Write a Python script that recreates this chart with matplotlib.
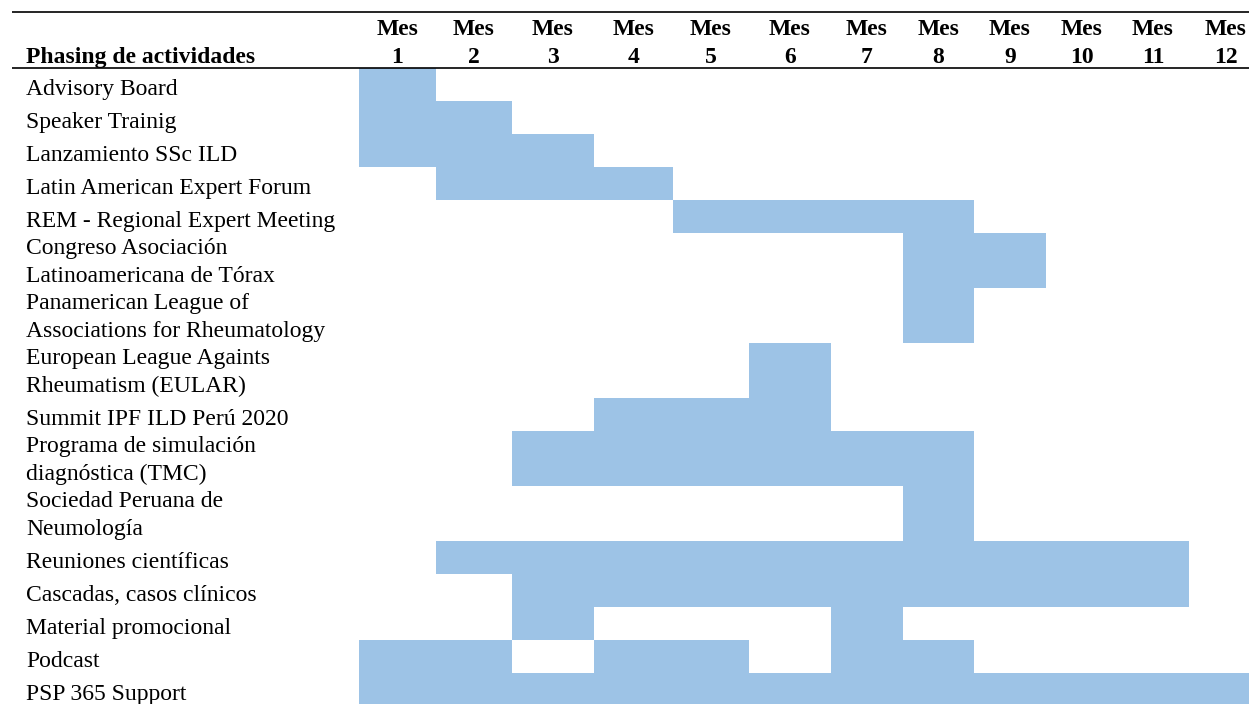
import matplotlib
matplotlib.use("Agg")
import matplotlib.pyplot as plt

# ---- data -------------------------------------------------------------
title = "Phasing de actividades"
months = [f"Mes\n{i}" for i in range(1, 13)]
activities = [
    "Advisory Board",
    "Speaker Trainig",
    "Lanzamiento SSc ILD",
    "Latin American Expert Forum",
    "REM - Regional Expert Meeting",
    "Congreso Asociación\nLatinoamericana de Tórax",
    "Panamerican League of\nAssociations for Rheumatology",
    "European League Againts\nRheumatism (EULAR)",
    "Summit IPF ILD Perú 2020",
    "Programa de simulación\ndiagnóstica (TMC)",
    "Sociedad Peruana de\nNeumología",
    "Reuniones científicas",
    "Cascadas, casos clínicos",
    "Material promocional",
    "Podcast",
    "PSP 365 Support",
]
active_months = [
    [1],
    [1, 2],
    [1, 2, 3],
    [2, 3, 4],
    [5, 6, 7, 8],
    [8, 9],
    [8],
    [6],
    [4, 5, 6],
    [3, 4, 5, 6, 7, 8],
    [8],
    [2, 3, 4, 5, 6, 7, 8, 9, 10, 11],
    [3, 4, 5, 6, 7, 8, 9, 10, 11],
    [3, 7],
    [1, 2, 4, 5, 7, 8],
    [1, 2, 3, 4, 5, 6, 7, 8, 9, 10, 11, 12],
]

# ---- layout (pixel units of the page) -----------------------------------
W, H = 1249, 704
col_edges = [359, 436, 512, 594, 673, 749, 831, 903, 974, 1046, 1117, 1189, 1263]
table_top = 67.7
line_h1 = 33.0      # one-line row
line_h2 = 55.0      # two-line row
text_gap = 27.5     # baseline-to-baseline distance
label_x = 26
fill = "#9DC3E6"
font = "Liberation Serif"
fs = 17

fig = plt.figure(figsize=(W / 100, H / 100), dpi=100)
ax = fig.add_axes([0, 0, 1, 1])
ax.set_xlim(0, W)
ax.set_ylim(H, 0)
ax.axis("off")

# header rules
ax.plot([12, W], [11.7, 11.7], color="black", lw=1.2, solid_capstyle="butt")
ax.plot([12, W], [table_top, table_top], color="black", lw=1.2, solid_capstyle="butt")

# header text
ax.text(label_x, 63, title, fontsize=fs, fontweight="bold", family=font,
        ha="left", va="baseline")
for i, m in enumerate(months):
    cx = (col_edges[i] + col_edges[i + 1]) / 2
    top, bottom = m.split("\n")
    ax.text(cx, 35, top, fontsize=fs, fontweight="bold", family=font,
            ha="center", va="baseline")
    ax.text(cx, 63, bottom, fontsize=fs, fontweight="bold", family=font,
            ha="center", va="baseline")

# rows
y = table_top
for name, act in zip(activities, active_months):
    lines = name.split("\n")
    h = line_h1 if len(lines) == 1 else line_h2
    # merge consecutive months into single bars
    runs = []
    for mth in sorted(act):
        if runs and runs[-1][1] == mth - 1:
            runs[-1][1] = mth
        else:
            runs.append([mth, mth])
    for a, b in runs:
        x0 = col_edges[a - 1]
        x1 = col_edges[b]
        ax.bar(x0, h, width=x1 - x0, bottom=y, align="edge",
               color=fill, linewidth=0)
    base = y + h - 6
    for k, ln in enumerate(reversed(lines)):
        ax.text(label_x, base - k * text_gap, ln, fontsize=fs, family=font,
                ha="left", va="baseline")
    y += h

fig.savefig("out.png", dpi=100)
